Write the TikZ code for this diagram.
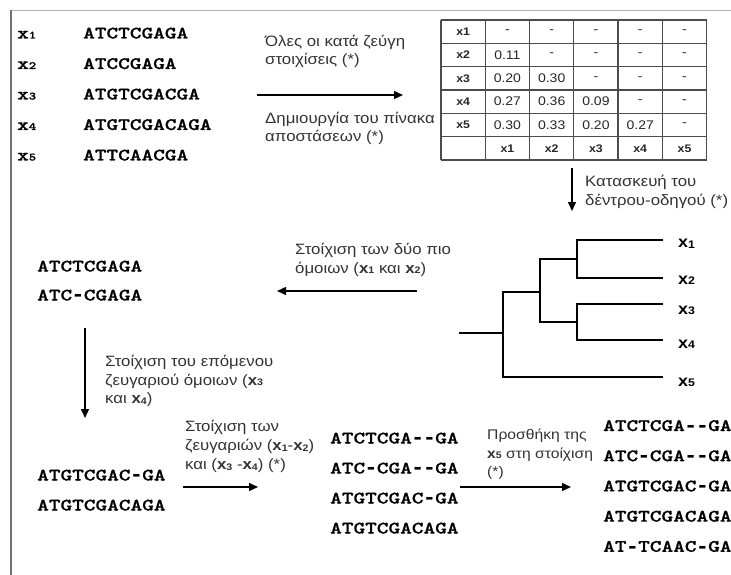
\documentclass[tikz,border=0pt]{standalone}
\usepackage{fontspec}
\setmainfont{Liberation Sans}[FakeStretch=1.12]
\newfontfamily\seqff{lmmonolt10-bold.otf}[FakeStretch=1.27, FakeBold=0.8, Ligatures=TeXOff]
\newfontfamily\gapff{Liberation Mono}[Ligatures=TeXOff]
\usetikzlibrary{arrows.meta}

% fonts
\newcommand\seqfont{\fontsize{17.5}{17.5}\selectfont\seqff}
\newcommand\notefont{\fontsize{15}{18.5}\selectfont}
% alignment gap: a hyphen centred in one character cell
\newcommand\gp{\makebox[11.67pt]{\raisebox{-1.2pt}{\gapff\bfseries\fontsize{22}{22}\selectfont -}}}
% sequence name with small index: in running notes, at tree leaves, in the matrix, in the input list
\newcommand\xs[1]{{\bfseries x{\fontsize{9.5}{9.5}\selectfont\raisebox{-0.6pt}{#1}}}}
\newcommand\xt[1]{{\bfseries\fontsize{16}{16}\selectfont x{\fontsize{11}{11}\selectfont\raisebox{-0.6pt}{#1}}}}
\newcommand\xh[1]{{\bfseries\fontsize{11}{11}\selectfont x#1}}
\newcommand\xm[1]{{\seqff\fontsize{17.5}{17.5}\selectfont x\fontsize{11}{11}\selectfont #1}}

\tikzset{
  seq/.style={anchor=base west, inner sep=0pt, font=\seqfont, text=black},
  note/.style={anchor=base west, inner sep=0pt, font=\notefont, align=left, text=black!80},
  step arrow/.style={line width=1.4pt, -{Triangle[length=9pt,width=8pt]}},
  branch/.style={line width=1.4pt, line cap=rect},
  cell/.style={inner sep=0pt, font=\fontsize{12.5}{12.5}\selectfont, text=black!85},
  grid line/.style={line width=1.3pt, draw=black!70},
}

\begin{document}
\begin{tikzpicture}[x=1pt, y=-1pt]
\useasboundingbox (0,0) rectangle (731,575);

% page frame
\draw[line width=1.6pt, draw=black!30] (11,10.5) -- (731,10.5);
\draw[line width=1.6pt, draw=black!55] (11,10.5) -- (11,575);

% input sequences
\foreach \i/\s in {1/ATCTCGAGA, 2/ATCCGAGA, 3/ATGTCGACGA, 4/ATGTCGACAGA, 5/ATTCAACGA}{
  \node[anchor=base west, inner sep=0pt] (name\i) at (17,{38.5+30.5*(\i-1)}) {\xm{\i}};
  \node[seq] (in\i) at (83,{38.5+30.5*(\i-1)}) {\s};
}

% step 1: pairwise alignments and distance matrix
% (a multi-line note sits on the baseline of its last line)
\coordinate (a1s) at (257,95);
\coordinate (a1e) at (403,95);
\draw[step arrow] (a1s) -- (a1e);
\node[note] (t1a) at (265,65) {Όλες οι κατά ζεύγη\\στοιχίσεις (*)};
\node[note] (t1b) at (265,142) {Δημιουργία του πίνακα\\αποστάσεων (*)};

% distance matrix
\foreach \k in {0,...,6}{
  \draw[grid line] ({441+44.28*\k},20) -- ({441+44.28*\k},160);
  \draw[grid line] (441,{20+23.33*\k}) -- (706.7,{20+23.33*\k});
}
\foreach \r/\row in {1/{-,-,-,-,-}, 2/{0.11,-,-,-,-}, 3/{0.20,0.30,-,-,-},
                     4/{0.27,0.36,0.09,-,-}, 5/{0.30,0.33,0.20,0.27,-}}{
  \node[cell] (h\r) at (463.1,{20+23.33*(\r-0.5)}) {\xh{\r}};
  \foreach \v [count=\c] in \row {
    \node[cell] (m\r\c) at ({463.1+44.28*\c},{20+23.33*(\r-0.5)}) {\v};
  }
}
\foreach \c in {1,...,5}{
  \node[cell] (f\c) at ({463.1+44.28*\c},148.3) {\xh{\c}};
}

% step 2: guide tree
\coordinate (a2s) at (572,168);
\coordinate (a2e) at (572,211);
\draw[step arrow] (a2s) -- (a2e);
\node[note] (t2) at (585,205) {Κατασκευή του\\δέντρου-οδηγού (*)};

\coordinate (root) at (460,333);
\coordinate (n0) at (503,333);
\coordinate (n1) at (540,292);
\coordinate (n12) at (577,259);
\coordinate (n34) at (577,322);
\coordinate (l1) at (662,240);
\coordinate (l2) at (662,278);
\coordinate (l3) at (662,304);
\coordinate (l4) at (662,340);
\coordinate (l5) at (662,377);
\draw[branch] (root) -- (n0);
\draw[branch] (n0 |- n1) -- (n0 |- l5);
\draw[branch] (n0 |- n1) -- (n1);
\draw[branch] (n0 |- l5) -- (l5);
\draw[branch] (n1 |- n12) -- (n1 |- n34);
\draw[branch] (n1 |- n12) -- (n12);
\draw[branch] (n1 |- n34) -- (n34);
\draw[branch] (n12 |- l1) -- (n12 |- l2);
\draw[branch] (n12 |- l1) -- (l1);
\draw[branch] (n12 |- l2) -- (l2);
\draw[branch] (n34 |- l3) -- (n34 |- l4);
\draw[branch] (n34 |- l3) -- (l3);
\draw[branch] (n34 |- l4) -- (l4);
\foreach \i/\dy in {1/7.5, 2/6, 3/10, 4/8, 5/9}{
  \node[anchor=base west, inner sep=0pt] (leaf\i) at ([shift={(16,\dy)}]l\i) {\xt{\i}};
}

% step 3: align x1 and x2
\coordinate (a3s) at (417,291);
\coordinate (a3e) at (277,291);
\draw[step arrow] (a3s) -- (a3e);
\node[note] (t3) at (295,273) {Στοίχιση των δύο πιο\\όμοιων (\xs{1} και \xs{2})};
\node[seq] (p1) at (37,271.5) {ATCTCGAGA};
\node[seq] (p2) at (37,300.5) {ATC\gp CGAGA};

% step 4: align x3 and x4
\coordinate (a4s) at (85,328);
\coordinate (a4e) at (85,418);
\draw[step arrow] (a4s) -- (a4e);
\node[note] (t4) at (105,403.5) {Στοίχιση του επόμενου\\ζευγαριού όμοιων (\xs{3}\\και \xs{4})};
\node[seq] (q1) at (37,480.5) {ATGTCGAC\gp GA};
\node[seq] (q2) at (37,510.5) {ATGTCGACAGA};

% step 5: align the two pairs
\coordinate (a5s) at (183,487);
\coordinate (a5e) at (258,487);
\draw[step arrow] (a5s) -- (a5e);
\node[note, font=\fontsize{15}{19}\selectfont] (t5) at (185,469.5) {Στοίχιση των\\ζευγαριών (\xs{1}-\xs{2})\\και (\xs{3} -\xs{4}) (*)};
\foreach \i/\s in {1/ATCTCGA\gp\gp GA, 2/ATC\gp CGA\gp\gp GA, 3/ATGTCGAC\gp GA, 4/ATGTCGACAGA}{
  \node[seq] (r\i) at (330,{443.5+30*(\i-1)}) {\s};
}

% step 6: add x5
\coordinate (a6s) at (460,487);
\coordinate (a6e) at (571,487);
\draw[step arrow] (a6s) -- (a6e);
\node[note, font=\fontsize{14}{18.5}\selectfont] (t6) at (487,476.5) {Προσθήκη της\\\xs{5} στη στοίχιση\\(*)};
\foreach \i/\s in {1/ATCTCGA\gp\gp GA, 2/ATC\gp CGA\gp\gp GA, 3/ATGTCGAC\gp GA, 4/ATGTCGACAGA, 5/AT\gp TCAAC\gp GA}{
  \node[seq] (f\i) at (603,{431+30.2*(\i-1)}) {\s};
}
\end{tikzpicture}
\end{document}
